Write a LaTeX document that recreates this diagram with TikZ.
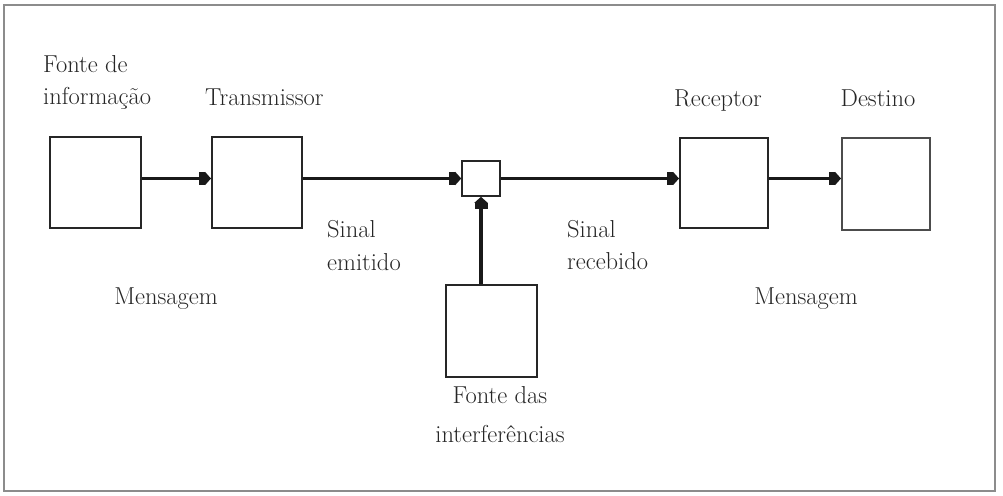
\documentclass[tikz,border=0pt]{standalone}
\usetikzlibrary{arrows.meta}
\begin{document}
\begin{tikzpicture}[x=1pt,y=-1pt,
  box/.style={draw=black!85,line width=2pt,inner sep=0pt,fill=white},
  conn/.style={line width=2.6pt,black!90,-{Square[length=6pt,width=13pt,sep=0pt]Triangle[length=6pt,width=13pt,sep=0pt]}},
  lbl/.style={inner sep=0pt,font=\fontsize{24.5}{28}\selectfont,text=black!85}]
\useasboundingbox (0,0) rectangle (1003,495);
\draw[black!45,line width=2pt] (4,5) rectangle (995,491);
% boxes
\node[box,minimum width=91pt,minimum height=91pt] (src) at (95.5,182.5) {};
\node[box,minimum width=90pt,minimum height=91pt] (tx) at (257,182.5) {};
\node[box,line width=1.6pt,minimum width=38pt,minimum height=35pt] (mix) at (481,178.5) {};
\node[box,minimum width=88pt,minimum height=90pt] (rx) at (724,183) {};
\node[box,draw=black!70,minimum width=88pt,minimum height=92pt] (dst) at (886,184) {};
\node[box,minimum width=91pt,minimum height=92pt] (noise) at (491.5,331) {};
% connectors
\draw[conn] (src.east |- mix.west) -- (tx.west |- mix.west);
\draw[conn] (tx.east |- mix.west) -- (mix.west);
\draw[conn] (mix.east) -- (rx.west |- mix.east);
\draw[conn] (rx.east |- mix.east) -- (dst.west |- mix.east);
\draw[conn,line width=4pt] (mix.south |- noise.north) -- (mix.south);
% labels
\node[lbl,anchor=base west] (l1) at (43,72) {Fonte de};
\node[lbl,anchor=base west] (l2) at (43,104) {informação};
\node[lbl,anchor=base west] (l3) at (205,105) {Transmissor};
\node[lbl,anchor=base] (l4) at (718,106) {Receptor};
\node[lbl,anchor=base] (l5) at (878,106) {Destino};
\node[lbl,anchor=base west] (l6) at (327,237) {Sinal};
\node[lbl,anchor=base west] (l7) at (327,270) {emitido};
\node[lbl,anchor=base west] (l8) at (567,237) {Sinal};
\node[lbl,anchor=base west] (l9) at (567,269) {recebido};
\node[lbl,anchor=base] (l10) at (166,304) {Mensagem};
\node[lbl,anchor=base] (l11) at (806,304) {Mensagem};
\node[lbl,anchor=base] (l12) at (500,403) {Fonte das};
\node[lbl,anchor=base] (l13) at (500,442) {interferências};
\end{tikzpicture}
\end{document}
